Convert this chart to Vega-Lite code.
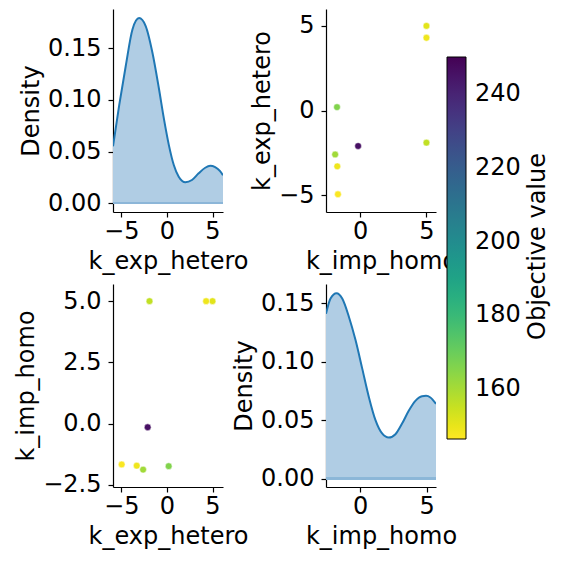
{
  "$schema": "https://vega.github.io/schema/vega-lite/v6.json",
  "padding": {"left": 14, "top": 9, "right": 5, "bottom": 5},
  "title": {
    "text": "Objective value",
    "orient": "right",
    "frame": "bounds",
    "anchor": "middle",
    "angle": 270,
    "baseline": "top",
    "offset": -19,
    "dx": 32,
    "font": "DejaVu Sans",
    "fontSize": 24,
    "fontWeight": "normal",
    "color": "black"
  },
  "datasets": {
    "trials": [
      {"k_exp_hetero": 5.0, "k_imp_homo": 5.0, "objective": 151},
      {"k_exp_hetero": 4.3, "k_imp_homo": 5.0, "objective": 149},
      {"k_exp_hetero": 0.2, "k_imp_homo": -1.74, "objective": 166},
      {"k_exp_hetero": -2.1, "k_imp_homo": -0.15, "objective": 246},
      {"k_exp_hetero": -1.9, "k_imp_homo": 5.0, "objective": 156},
      {"k_exp_hetero": -2.6, "k_imp_homo": -1.88, "objective": 161},
      {"k_exp_hetero": -3.3, "k_imp_homo": -1.72, "objective": 149},
      {"k_exp_hetero": -4.95, "k_imp_homo": -1.67, "objective": 147}
    ],
    "kde_exp": [
      {"k": -5.9, "density": 0.055},
      {"k": -5.22, "density": 0.0948},
      {"k": -4.49, "density": 0.1334},
      {"k": -3.77, "density": 0.168},
      {"k": -3.04, "density": 0.179},
      {"k": -2.32, "density": 0.1713},
      {"k": -1.59, "density": 0.146},
      {"k": -0.87, "density": 0.1109},
      {"k": -0.33, "density": 0.082},
      {"k": 0.22, "density": 0.0562},
      {"k": 0.76, "density": 0.0369},
      {"k": 1.3, "density": 0.0256},
      {"k": 2.03, "density": 0.0202},
      {"k": 2.75, "density": 0.0224},
      {"k": 3.48, "density": 0.0289},
      {"k": 4.2, "density": 0.0343},
      {"k": 4.75, "density": 0.0362},
      {"k": 5.29, "density": 0.0349},
      {"k": 5.83, "density": 0.0311},
      {"k": 6.15, "density": 0.027}
    ],
    "kde_imp": [
      {"k": -2.57, "density": 0.141},
      {"k": -2.23, "density": 0.154},
      {"k": -1.78, "density": 0.1585},
      {"k": -1.35, "density": 0.154},
      {"k": -0.85, "density": 0.1385},
      {"k": -0.35, "density": 0.1185},
      {"k": 0.15, "density": 0.0943},
      {"k": 0.65, "density": 0.0699},
      {"k": 1.15, "density": 0.05},
      {"k": 1.65, "density": 0.0386},
      {"k": 2.15, "density": 0.0351},
      {"k": 2.65, "density": 0.038},
      {"k": 3.15, "density": 0.0471},
      {"k": 3.65, "density": 0.058},
      {"k": 4.15, "density": 0.0665},
      {"k": 4.65, "density": 0.0705},
      {"k": 4.95, "density": 0.0708},
      {"k": 5.28, "density": 0.0694},
      {"k": 5.7, "density": 0.064}
    ]
  },
  "config": {
    "font": "DejaVu Sans",
    "view": {"stroke": null},
    "axis": {
      "grid": false,
      "labelFont": "DejaVu Sans",
      "labelFontSize": 24,
      "labelColor": "black",
      "labelFlush": false,
      "labelOverlap": false,
      "titleFont": "DejaVu Sans",
      "titleFontSize": 24,
      "titleFontWeight": "normal",
      "titleColor": "black",
      "domainColor": "black",
      "domainWidth": 1.2,
      "tickColor": "black",
      "tickWidth": 1.2,
      "tickSize": 5
    },
    "axisX": {"labelPadding": 2, "titlePadding": 6},
    "axisY": {"labelPadding": 7, "titlePadding": 4},
    "legend": {
      "labelFont": "DejaVu Sans",
      "labelFontSize": 24,
      "labelColor": "black"
    }
  },
  "columns": 2,
  "bounds": "flush",
  "spacing": {"row": 72, "column": 103},
  "concat": [
    {
      "width": 110,
      "height": 203,
      "data": {"name": "kde_exp"},
      "encoding": {
        "x": {"field": "k", "type": "quantitative", "scale": {"domain": [-5.9, 6.15], "nice": false, "zero": false}, "axis": {"values": [-5, 0, 5], "format": "d", "title": "k_exp_hetero"}},
        "y": {"field": "density", "type": "quantitative", "scale": {"domain": [-0.0085, 0.1878], "nice": false, "zero": false}, "axis": {"values": [0, 0.05, 0.1, 0.15], "format": ".2f", "title": "Density"}}
      },
      "layer": [
        {"mark": {"type": "area", "interpolate": "monotone", "color": "#b0cde4", "opacity": 1, "clip": true}, "encoding": {"y2": {"datum": 0}}},
        {"mark": {"type": "rule", "color": "#8cb6d8", "strokeWidth": 1.5}, "encoding": {"x": {"value": 0}, "x2": {"value": 110}, "y": {"datum": 0}}},
        {"mark": {"type": "line", "interpolate": "monotone", "color": "#1f77b4", "strokeWidth": 2, "clip": true}}
      ]
    },
    {
      "width": 110,
      "height": 203,
      "data": {"name": "trials"},
      "mark": {"type": "circle", "size": 46, "opacity": 1, "stroke": "white", "strokeWidth": 0.5},
      "encoding": {
        "x": {"field": "k_imp_homo", "type": "quantitative", "scale": {"domain": [-2.57, 5.72], "nice": false, "zero": false}, "axis": {"values": [0, 5], "format": "d", "title": "k_imp_homo"}},
        "y": {"field": "k_exp_hetero", "type": "quantitative", "scale": {"domain": [-6, 6], "nice": false, "zero": false}, "axis": {"values": [-5, 0, 5], "format": "d", "title": "k_exp_hetero"}},
        "color": {
          "field": "objective", "type": "quantitative",
          "scale": {"scheme": "viridis", "reverse": true, "domain": [146.5, 250]},
          "legend": {
            "title": null, "orient": "none", "legendX": 334, "legendY": 48, "direction": "vertical",
            "gradientLength": 382, "gradientThickness": 19, "gradientStrokeColor": "black", "gradientStrokeWidth": 1,
            "values": [160, 180, 200, 220, 240], "labelOffset": 9, "padding": 0
          }
        }
      }
    },
    {
      "width": 110,
      "height": 203,
      "data": {"name": "trials"},
      "mark": {"type": "circle", "size": 46, "opacity": 1, "stroke": "white", "strokeWidth": 0.5},
      "encoding": {
        "x": {"field": "k_exp_hetero", "type": "quantitative", "scale": {"domain": [-5.9, 6.15], "nice": false, "zero": false}, "axis": {"values": [-5, 0, 5], "format": "d", "title": "k_exp_hetero"}},
        "y": {"field": "k_imp_homo", "type": "quantitative", "scale": {"domain": [-2.59, 5.7], "nice": false, "zero": false}, "axis": {"values": [-2.5, 0, 2.5, 5], "format": ".1f", "title": "k_imp_homo"}},
        "color": {"field": "objective", "type": "quantitative", "scale": {"scheme": "viridis", "reverse": true, "domain": [146.5, 250]}}
      }
    },
    {
      "width": 110,
      "height": 203,
      "data": {"name": "kde_imp"},
      "encoding": {
        "x": {"field": "k", "type": "quantitative", "scale": {"domain": [-2.57, 5.7], "nice": false, "zero": false}, "axis": {"values": [0, 5], "format": "d", "title": "k_imp_homo"}},
        "y": {"field": "density", "type": "quantitative", "scale": {"domain": [-0.0072, 0.1665], "nice": false, "zero": false}, "axis": {"values": [0, 0.05, 0.1, 0.15], "format": ".2f", "title": "Density"}}
      },
      "layer": [
        {"mark": {"type": "area", "interpolate": "monotone", "color": "#b0cde4", "opacity": 1, "clip": true}, "encoding": {"y2": {"datum": 0}}},
        {"mark": {"type": "rule", "color": "#8cb6d8", "strokeWidth": 1.5}, "encoding": {"x": {"value": 0}, "x2": {"value": 110}, "y": {"datum": 0}}},
        {"mark": {"type": "line", "interpolate": "monotone", "color": "#1f77b4", "strokeWidth": 2, "clip": true}}
      ]
    }
  ]
}
